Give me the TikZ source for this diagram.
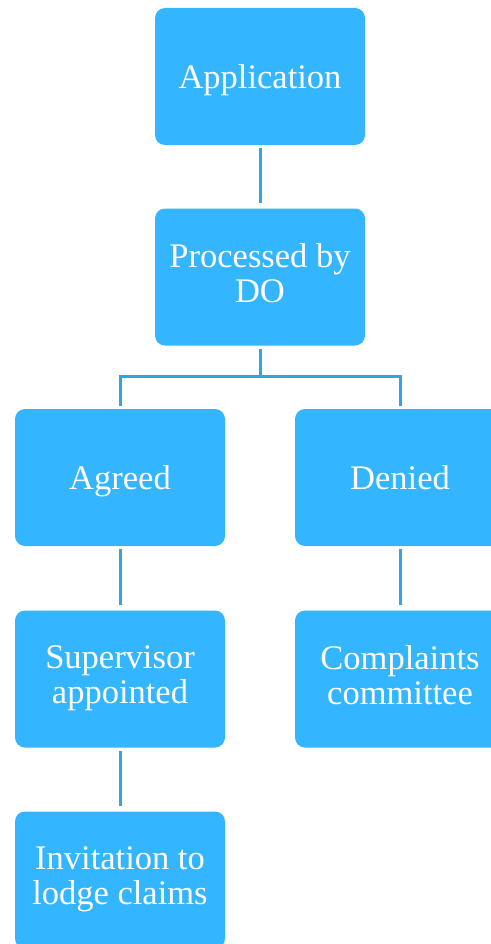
\documentclass[tikz,border=0pt]{standalone}
\usepackage{fontspec}
\setmainfont{Liberation Serif}
\usepackage{xcolor}
\usepackage{tikz}

\definecolor{boxblue}{HTML}{33B5FF}
\definecolor{lineblue}{HTML}{2CA6E4}
\newcommand{\topstrut}{\rule{0pt}{32pt}}
\newcommand{\botstrut}{\rule[-8pt]{0pt}{8pt}}

\begin{document}
\begin{tikzpicture}[x=1pt, y=1pt,
    box/.style={fill=boxblue, rounded corners=10pt, minimum width=210pt, minimum height=137pt,
        text=white, align=center, font=\fontsize{34.5}{35}\selectfont, inner sep=0pt,
        execute at begin node=\topstrut, execute at end node=\botstrut},
    link/.style={draw=lineblue, line width=3pt}]
    \useasboundingbox (0,0) rectangle (490,-944);

    % Top of the tree
    \node[box] (app) at (260,-76.5) {Application};
    \node[box] (proc) at (260,-277) {Processed by\\DO};

    % Decision
    \node[box] (agreed) at (120,-477.5) {Agreed};
    \node[box] (denied) at (400,-477.5) {Denied};

    % Follow-up steps
    \node[box] (super) at (120,-679) {Supervisor\\appointed};
    \node[box] (compl) at (400,-679) {Complaints\\committee};
    \node[box] (invite) at (120,-880) {Invitation to\\lodge claims};

    % Connectors
    \draw[link, shorten <=3pt, shorten >=5pt] (app) -- (proc);
    \draw[link, shorten <=3pt] (proc.south) -- ++(0,-31) coordinate (fork) -| ([yshift=3pt]agreed.north);
    \draw[link] (fork) -| ([yshift=3pt]denied.north);
    \draw[link, shorten <=3pt, shorten >=5pt] (agreed) -- (super);
    \draw[link, shorten <=3pt, shorten >=5pt] (denied) -- (compl);
    \draw[link, shorten <=3pt, shorten >=5pt] (super) -- (invite);
\end{tikzpicture}
\end{document}
